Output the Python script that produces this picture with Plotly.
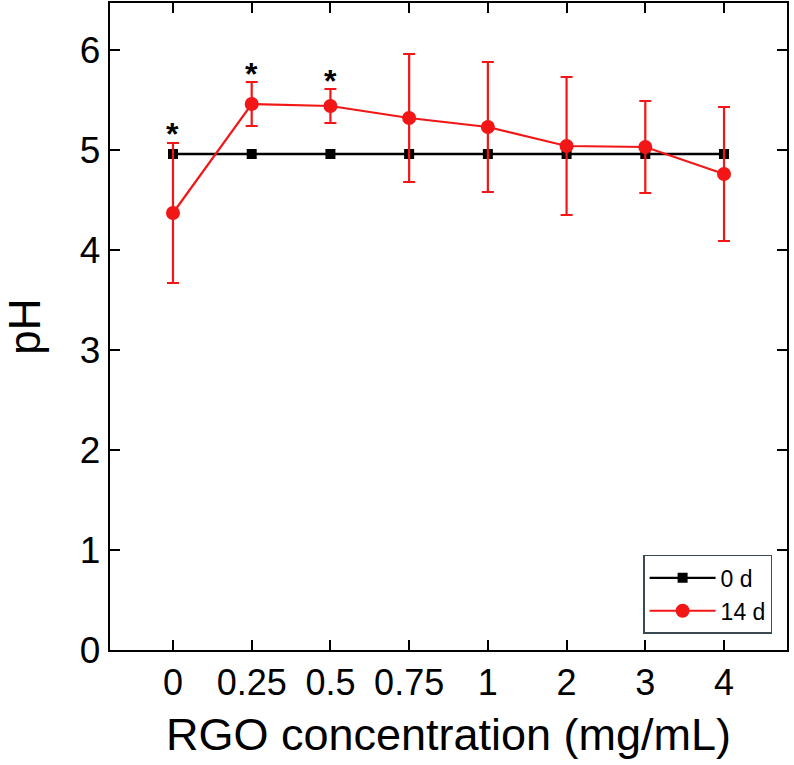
import plotly.graph_objects as go

categories = ["0", "0.25", "0.5", "0.75", "1", "2", "3", "4"]
ph_0d = [4.96, 4.96, 4.96, 4.96, 4.96, 4.96, 4.96, 4.96]
ph_14d = [4.37, 5.46, 5.44, 5.32, 5.23, 5.04, 5.03, 4.76]
err_14d = [0.70, 0.22, 0.17, 0.64, 0.65, 0.69, 0.46, 0.67]
star_cats = ["0", "0.25", "0.5"]
star_y = [5.2, 5.8, 5.73]

FONT = "Liberation Sans, Arial, sans-serif"
RED = "#f21616"

fig = go.Figure()
fig.add_trace(go.Scatter(
    x=categories, y=ph_0d, name="0 d", mode="lines+markers",
    line=dict(color="black", width=2.4),
    marker=dict(symbol="square", size=10, color="black"),
))
fig.add_trace(go.Scatter(
    x=categories, y=ph_14d, name="14 d", mode="lines+markers",
    line=dict(color=RED, width=2.2),
    marker=dict(symbol="circle", size=14, color=RED),
    error_y=dict(type="data", array=err_14d, visible=True, color=RED,
                 thickness=2.2, width=6),
))

for c, yv in zip(star_cats, star_y):
    fig.add_annotation(x=categories.index(c), y=yv, text="<b>*</b>",
                       showarrow=False,
                       font=dict(family=FONT, size=32, color="black"),
                       yanchor="middle", yshift=-4)

axis_common = dict(
    showline=True, linecolor="black", linewidth=2.4, mirror="ticks",
    ticks="inside", ticklen=10, tickwidth=2, tickcolor="black",
    showgrid=False, zeroline=False, automargin=False,
)

fig.update_layout(
    width=794, height=765,
    margin=dict(l=110, r=7, t=3, b=115),
    paper_bgcolor="white", plot_bgcolor="white",
    font=dict(family=FONT, color="black"),
    showlegend=True,
    legend=dict(
        x=0.978, y=0.147, xanchor="right", yanchor="top",
        bordercolor="#3a4a50", borderwidth=1.5, bgcolor="white",
        font=dict(family=FONT, size=23, color="black"),
        itemwidth=66, tracegroupgap=0, entrywidth=146,
    ),
    xaxis=dict(
        type="category", categoryorder="array", categoryarray=categories,
        range=[-0.8, 7.8],
        title=dict(text="RGO concentration (mg/mL)",
                   font=dict(family=FONT, size=45), standoff=16),
        tickfont=dict(family=FONT, size=36),
        **axis_common,
    ),
    yaxis=dict(
        range=[0, 6.47], tickvals=[0, 1, 2, 3, 4, 5, 6],
        title=dict(text="pH", font=dict(family=FONT, size=44), standoff=29),
        tickfont=dict(family=FONT, size=37),
        **axis_common,
    ),
)

fig.write_html("out.html", config={"displayModeBar": False},
               post_script="document.body.style.margin='0';document.body.style.padding='0';")
